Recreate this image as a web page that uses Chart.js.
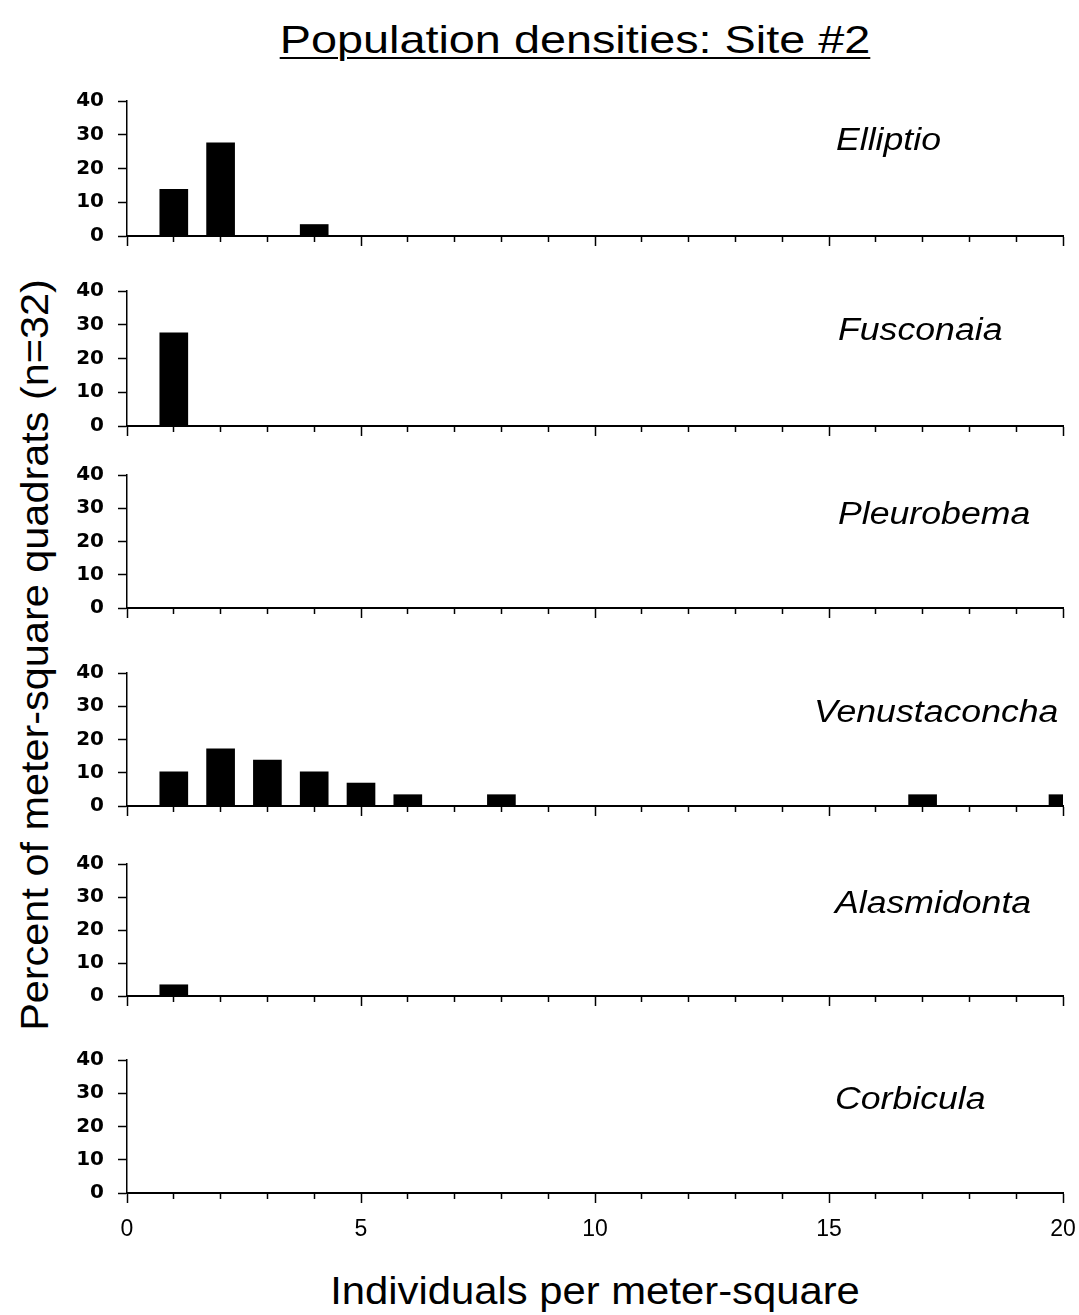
<!DOCTYPE html>
<html><head><meta charset="utf-8">
<script src="https://cdn.jsdelivr.net/npm/chart.js@4.4.1/dist/chart.umd.min.js"></script>
<style>
html,body{margin:0;padding:0;background:#fff;}
body{width:1079px;height:1315px;position:relative;overflow:hidden;font-family:"Liberation Sans",Arial,sans-serif;color:#000;}
canvas{position:absolute;left:0;}
.t{position:absolute;white-space:nowrap;line-height:1;}
#title{left:575px;top:20px;font-size:39px;text-decoration:underline;text-decoration-thickness:2px;text-underline-offset:4px;transform:translateX(-50%) scaleX(1.2);}
#ylab{left:35px;top:655px;font-size:38px;transform:translate(-50%,-50%) rotate(-90deg) scaleX(1.09);}
#xlab{left:595px;top:1272px;font-size:38px;transform:translateX(-50%) scaleX(1.1);}
.sp{font-style:italic;font-size:31px;transform-origin:0 50%;transform:scaleX(1.15);}
</style>
</head><body>
<div id="title" class="t">Population densities: Site #2</div>
<div id="ylab" class="t">Percent of meter-square quadrats (n=32)</div>
<div id="xlab" class="t">Individuals per meter-square</div>
<script>
// ---- data ----
const densities = [1,2,3,4,5,6,7,8,9,10,11,12,13,14,15,16,17,18,19,20];
const speciesNames = ["Elliptio","Fusconaia","Pleurobema","Venustaconcha","Alasmidonta","Corbicula"];
const elliptio      = [13.8,27.6,0,3.4,0,0,0,0,0,0,0,0,0,0,0,0,0,0,0,0];
const fusconaia     = [27.6,0,0,0,0,0,0,0,0,0,0,0,0,0,0,0,0,0,0,0];
const pleurobema    = [0,0,0,0,0,0,0,0,0,0,0,0,0,0,0,0,0,0,0,0];
const venustaconcha = [10.3,17.2,13.8,10.3,6.9,3.4,0,3.4,0,0,0,0,0,0,0,0,3.4,0,0,3.4];
const alasmidonta   = [3.4,0,0,0,0,0,0,0,0,0,0,0,0,0,0,0,0,0,0,0];
const corbicula     = [0,0,0,0,0,0,0,0,0,0,0,0,0,0,0,0,0,0,0,0];
const yTickValues = [0,10,20,30,40];
const xTickLabels = [0,5,10,15,20];
const seriesList = [elliptio, fusconaia, pleurobema, venustaconcha, alasmidonta, corbicula];

// ---- layout ----
const panelTops    = [101, 291, 475, 673, 864, 1060];
const panelBottoms = [236, 426, 608, 806, 996, 1193];
const labelLeft    = [836, 838, 838, 814, 835, 835];
const PAD_TOP = 14, Y_AXIS_W = 127, PAD_RIGHT = 16;

function zeroPad(s) { s.paddingTop = 0; s.paddingBottom = 0; s.paddingLeft = 0; s.paddingRight = 0; }

seriesList.forEach((vals, i) => {
  const last = i === seriesList.length - 1;
  const xH = last ? 52 : 14;
  const plotH = panelBottoms[i] - panelTops[i];
  const cv = document.createElement('canvas');
  cv.width = 1079; cv.height = PAD_TOP + plotH + xH;
  cv.style.top = (panelTops[i] - PAD_TOP) + 'px';
  cv.style.width = '1079px'; cv.style.height = cv.height + 'px';
  document.body.appendChild(cv);

  const lab = document.createElement('div');
  lab.className = 't sp';
  lab.textContent = speciesNames[i];
  lab.style.left = labelLeft[i] + 'px';
  lab.style.top = (panelTops[i] + 39 - 16) + 'px';
  document.body.appendChild(lab);

  new Chart(cv, {
    type: 'bar',
    data: {
      datasets: [{
        data: densities.map((d, k) => ({x: d, y: vals[k]})),
        backgroundColor: '#000',
        borderWidth: 0,
        barThickness: 28,
        clip: 0
      }]
    },
    options: {
      responsive: false,
      animation: false,
      devicePixelRatio: 1,
      layout: {padding: {top: PAD_TOP, right: PAD_RIGHT, left: 0, bottom: 0}},
      plugins: {legend: {display: false}, tooltip: {enabled: false}, title: {display: false}},
      scales: {
        x: {
          type: 'linear', min: 0, max: 20, offset: false,
          afterFit: s => { s.height = xH; zeroPad(s); },
          border: {display: true, color: '#000', width: 2},
          grid: {
            offset: false,
            drawOnChartArea: false, drawTicks: true, tickLength: 10,
            tickColor: '#000', tickWidth: 1.5,
            tickBorderDash: ctx => (ctx.tick && ctx.tick.value % 5 === 0) ? [] : [5, 40]
          },
          ticks: {
            display: last, stepSize: 1, autoSkip: false, maxRotation: 0, padding: 13,
            color: '#000', font: {family: '"Liberation Sans", Arial, sans-serif', size: 23},
            callback: v => xTickLabels.includes(v) ? String(v) : ''
          }
        },
        y: {
          min: 0, max: 40,
          afterFit: s => { s.width = Y_AXIS_W; zeroPad(s); },
          afterBuildTicks: s => { s.ticks = yTickValues.map(v => ({value: v})); },
          border: {display: true, color: '#000', width: 1.5},
          grid: {drawOnChartArea: false, drawTicks: true, tickLength: 9, tickColor: '#000', tickWidth: 1.5},
          ticks: {
            padding: 14, color: '#000',
            font: {family: '"DejaVu Sans", sans-serif', size: 20, weight: 'bold'}
          }
        }
      }
    }
  });
});
</script>
</body></html>
